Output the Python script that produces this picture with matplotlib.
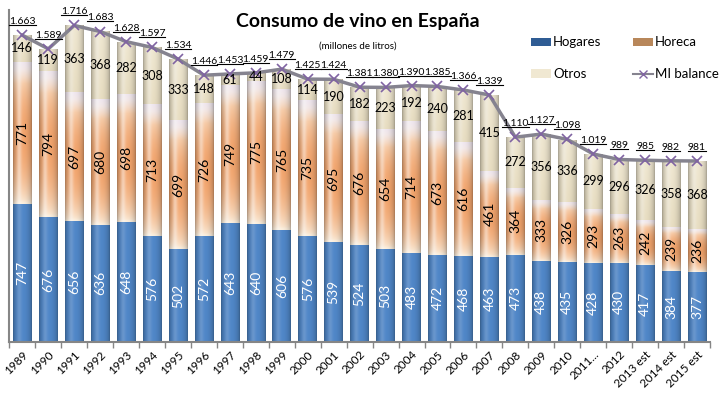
import numpy as np
import matplotlib
matplotlib.use('Agg')
import matplotlib.pyplot as plt
from matplotlib.lines import Line2D
from matplotlib.patches import Patch
from matplotlib.colors import to_rgb

plt.rcParams['font.family'] = ['Lato', 'DejaVu Sans']

# Datos (millones de litros)
anios = ['1989', '1990', '1991', '1992', '1993', '1994', '1995', '1996', '1997',
         '1998', '1999', '2000', '2001', '2002', '2003', '2004', '2005', '2006',
         '2007', '2008', '2009', '2010', '2011...', '2012', '2013 est',
         '2014 est', '2015 est']
hogares = [747, 676, 656, 636, 648, 576, 502, 572, 643, 640, 606, 576, 539, 524,
           503, 483, 472, 468, 463, 473, 438, 435, 428, 430, 417, 384, 377]
horeca = [771, 794, 697, 680, 698, 713, 699, 726, 749, 775, 765, 735, 695, 676,
          654, 714, 673, 616, 461, 364, 333, 326, 293, 263, 242, 239, 236]
otros = [146, 119, 363, 368, 282, 308, 333, 148, 61, 44, 108, 114, 190, 182,
         223, 192, 240, 281, 415, 272, 356, 336, 299, 296, 326, 358, 368]
balance = [1663, 1589, 1716, 1683, 1628, 1597, 1534, 1446, 1453, 1459, 1479, 1425,
           1424, 1381, 1380, 1390, 1385, 1366, 1339, 1110, 1127, 1098, 1019, 989,
           985, 982, 981]

x = np.arange(len(anios))
hog = np.array(hogares)
hor = np.array(horeca)
otr = np.array(otros)

fig = plt.figure(figsize=(7.2, 3.98), dpi=100)
ax = fig.add_axes([0.013, 0.141, 0.973, 0.834])

b1 = ax.bar(x, hog, width=0.72, color='#4A7EBB', zorder=2)
b2 = ax.bar(x, hor, width=0.72, bottom=hog, color='#F2B384', zorder=2)
b3 = ax.bar(x, otr, width=0.72, bottom=hog + hor, color='#ECE3CA', zorder=2)


def cylinder(n=40):
    u = np.linspace(0, 1, n)
    shade = 0.68 + 0.32 * np.sin(np.pi * u) ** 0.5
    hl = np.exp(-((u - 0.32) / 0.13) ** 2)
    return shade, hl


def grad_img(kind, nv=60, nu=40):
    shade, hl = cylinder(nu)
    v = np.linspace(0, 1, nv)[:, None]  # 0 abajo, 1 arriba
    if kind == 'hog':
        base = np.array(to_rgb('#5087C8'))[None, None, :] * np.ones((nv, 1, 1))
        hls = 0.15
    elif kind == 'hor':
        light = np.array(to_rgb('#FBEEDC'))
        orange = np.array(to_rgb('#F2A46C'))
        top = np.array(to_rgb('#EFE6EE'))
        w = np.sin(np.pi * np.clip(v * 1.05, 0, 1)) ** 0.7
        base = light * (1 - w[..., None]) + orange * w[..., None]
        t = np.clip((v - 0.85) / 0.15, 0, 1)
        base = base * (1 - t[..., None]) + top * t[..., None]
        hls = 0.45
    else:
        light = np.array(to_rgb('#EFE7D1'))
        dark = np.array(to_rgb('#E2D6B6'))
        w = np.clip(1 - v, 0, 1)
        base = light * (1 - w[..., None] * 0.6) + dark * w[..., None] * 0.6
        hls = 0.3
    img = base * shade[None, :, None]
    img = img + (1 - img) * (hls * hl)[None, :, None]
    return np.clip(img[::-1], 0, 1)


for bars, kind in [(b1, 'hog'), (b2, 'hor'), (b3, 'otr')]:
    img = grad_img(kind)
    for p in bars:
        x0, y0 = p.get_x(), p.get_y()
        w, h = p.get_width(), p.get_height()
        im = ax.imshow(img, extent=[x0, x0 + w, y0, y0 + h], aspect='auto',
                       zorder=2.5, interpolation='bilinear')
        im.set_clip_path(p)

# Línea de balance
ax.plot(x, balance, color='#85838F', lw=2.5, marker='x', markersize=6.5,
        markeredgecolor='#8064A2', markeredgewidth=1.2, zorder=4)

# Etiquetas dentro de las barras
for i in x:
    ax.text(i, hog[i] / 2, str(hog[i]), rotation=90, ha='center', va='center',
            color='white', fontsize=10, zorder=5)
    ax.text(i, hog[i] + hor[i] / 2, str(hor[i]), rotation=90, ha='center',
            va='center', color='black', fontsize=10, zorder=5)
    ax.text(i, hog[i] + hor[i] + otr[i] / 2, str(otr[i]), ha='center',
            va='center', color='black', fontsize=9, zorder=5)

bal_texts = []
for i, val in enumerate(balance):
    s = f'{val:,}'.replace(',', '.')
    t = ax.annotate(s, (i, val), xytext=(0, 6.5), textcoords='offset points',
                    ha='center', va='bottom', fontsize=7.5, color='black',
                    zorder=6)
    bal_texts.append(t)

ax.set_xlim(-0.5, len(anios) - 0.5)
ax.set_ylim(0, 1800)
ax.set_yticks([])
ax.set_xticks(x)
ax.set_xticklabels(anios, rotation=45, ha='right', rotation_mode='anchor',
                   fontsize=8.5)
ax.set_xticks(np.arange(-0.5, len(anios)), minor=True)
ax.tick_params(axis='x', which='major', length=0, pad=5)
ax.tick_params(axis='x', which='minor', length=4, color='#868686', width=1)
for s in ['top', 'right']:
    ax.spines[s].set_visible(False)
for s in ['left', 'bottom']:
    ax.spines[s].set_color('#868686')
    ax.spines[s].set_linewidth(1.5)

fig.text(0.497, 0.945, 'Consumo de vino en España', ha='center', va='center',
         fontsize=14, fontweight='bold')
fig.text(0.497, 0.885, '(millones de litros)', ha='center', va='center',
         fontsize=7)

h_hog = Patch(facecolor='#2F5C94', edgecolor='none', label='Hogares')
h_hor = Patch(facecolor='#B8875A', edgecolor='none', label='Horeca')
h_otr = Patch(facecolor='#F0E8D2', edgecolor='none', label='Otros')
h_bal = Line2D([], [], color='#85838F', lw=1.5, marker='x',
               markeredgecolor='#8064A2', markersize=6, label='MI balance')
fig.legend(handles=[h_hog, h_otr, h_hor, h_bal], ncol=2, loc='upper left',
           bbox_to_anchor=(0.729, 0.925), frameon=False, fontsize=9.5,
           borderpad=0, handlelength=1.5, handleheight=0.6,
           handletextpad=0.15, columnspacing=2.4, labelspacing=1.5)

# subrayado de las etiquetas del balance
fig.canvas.draw()
r = fig.canvas.get_renderer()
inv = fig.transFigure.inverted()
for t in bal_texts:
    bb = t.get_window_extent(r)
    (fx0, fy0) = inv.transform((bb.x0, bb.y0 + 1))
    (fx1, _) = inv.transform((bb.x1, bb.y0 + 1))
    fig.add_artist(Line2D([fx0, fx1], [fy0, fy0], color='black', lw=0.8,
                          transform=fig.transFigure))

fig.savefig('out.png', dpi=100)
